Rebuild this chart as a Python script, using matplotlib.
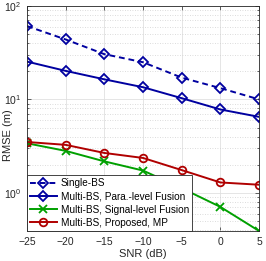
import matplotlib
matplotlib.use("Agg")
import matplotlib.pyplot as plt
from matplotlib.ticker import LogLocator, NullFormatter, FixedLocator

snr = [-25, -20, -15, -10, -5, 0, 5]
single_bs = [61, 43.8, 30.5, 25, 17.1, 13.2, 10]
para_fusion = [25.4, 20.2, 16.4, 13.5, 10.3, 7.8, 6.5]
signal_fusion = [3.39, 2.81, 2.17, 1.73, 1.12, 0.706, 0.39]
proposed_mp = [3.5, 3.26, 2.67, 2.36, 1.75, 1.29, 1.22]
labels = ["Single-BS", "Multi-BS, Para.-level Fusion",
          "Multi-BS, Signal-level Fusion", "Multi-BS, Proposed, MP"]

plt.rcParams['font.family'] = ['Liberation Sans', 'DejaVu Sans']

fig = plt.figure(figsize=(2.66, 2.61), dpi=100)
ax = fig.add_axes([0.1015, 0.115, 0.8725, 0.862])

blue = '#0000A0'
green = '#00A000'
red = '#B00000'
lw = 1.4
ms = 5
mew = 1.3
ax.plot(snr, single_bs, linestyle=(0, (3, 2)), color=blue, lw=lw, marker='D',
        ms=ms, mfc='none', mew=mew, label=labels[0])
ax.plot(snr, para_fusion, '-', color=blue, lw=lw, marker='D',
        ms=ms, mfc='none', mew=mew, label=labels[1])
ax.plot(snr, signal_fusion, '-', color=green, lw=lw, marker='x',
        ms=ms + 1, mew=mew, label=labels[2])
ax.plot(snr, proposed_mp, '-', color=red, lw=lw, marker='o',
        ms=ms + 0.5, mfc='none', mew=mew, label=labels[3])

ax.set_yscale('log')
ax.set_xlim(-25, 5)
ax.set_ylim(0.39, 100)
ax.xaxis.set_major_locator(FixedLocator(snr))
ax.yaxis.set_major_locator(LogLocator(base=10, numticks=10))
ax.yaxis.set_minor_locator(LogLocator(base=10, subs=range(2, 10), numticks=20))
ax.yaxis.set_minor_formatter(NullFormatter())

ax.grid(True, which='major', color='#e0e0e0', lw=0.6, ls='-')
ax.grid(True, which='minor', axis='y', color='#d0d0d0', lw=0.6, ls=(0, (1, 2)))
ax.set_axisbelow(True)

ax.tick_params(which='both', direction='in', top=True, right=True,
               labelsize=7.5, colors='#262626', width=0.5)
ax.tick_params(which='major', length=3, pad=4)
ax.tick_params(which='minor', length=1.5)
for s in ax.spines.values():
    s.set_color('#262626')
    s.set_linewidth(0.6)

ax.set_xlabel('SNR (dB)', fontsize=8, color='#262626', labelpad=2)
ax.set_ylabel('RMSE (m)', fontsize=8, color='#262626')
ax.yaxis.set_label_coords(-0.062, 0.425)

leg = ax.legend(loc='lower left', fontsize=7.2, frameon=True, fancybox=False,
                edgecolor='#262626', framealpha=1, borderaxespad=0,
                handlelength=2.7, handletextpad=0.4, borderpad=0.3,
                labelspacing=0.32)
leg.get_frame().set_linewidth(0.6)

fig.savefig('out.png', dpi=100)
